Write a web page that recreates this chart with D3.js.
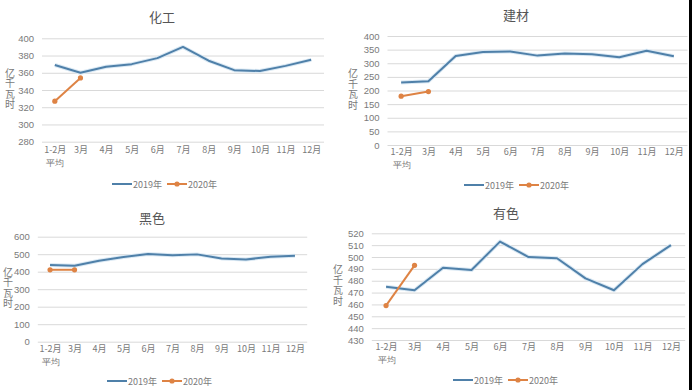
<!DOCTYPE html>
<html><head><meta charset="utf-8">
<script src="https://cdn.jsdelivr.net/npm/d3@7"></script>
<style>
body{margin:0;background:#fff;}
svg{display:block;font-family:"Noto Sans CJK SC","Noto Sans",sans-serif;}
</style></head>
<body><svg id="c" width="692" height="390"></svg>
<script>
const categories = ["1-2月","3月","4月","5月","6月","7月","8月","9月","10月","11月","12月"];
const seriesNames = ["2019年","2020年"];
const titles = ["化工","建材","黑色","有色"];
const yLabel = "亿千瓦时";

const chem2019 = [369,360,367,370,377,390,374,363,362,368,375];
const chem2020 = [327,354];
const build2019 = [229,234,327,341,343,328,336,333,322,346,326];
const build2020 = [179,196];
const ferrous2019 = [438,434,463,484,501,494,499,476,470,485,491];
const ferrous2020 = [411,411];
const nonferrous2019 = [475,472,491,489,513,500,499,482,472,494,510];
const nonferrous2020 = [459,493];

const chemTicks = [280,300,320,340,360,380,400];
const buildTicks = [0,50,100,150,200,250,300,350,400];
const ferrousTicks = [0,100,200,300,400,500,600];
const nonferrousTicks = [430,440,450,460,470,480,490,500,510,520];

const panels = [
  {title:titles[0], s1:chem2019, s2:chem2020, ticks:chemTicks,
   L:42, R:324, T:38.3, B:141.7, tx:162, ty:22, yl:10, legX:112, legY:184, catY:157},
  {title:titles[1], s1:build2019, s2:build2020, ticks:buildTicks,
   L:387.5, R:687.5, T:36, B:145, tx:516, ty:20, yl:353, legX:464, legY:185, catY:159},
  {title:titles[2], s1:ferrous2019, s2:ferrous2020, ticks:ferrousTicks,
   L:37.8, R:307.2, T:236.7, B:341.7, tx:152, ty:223, yl:8, legX:107, legY:381, catY:356},
  {title:titles[3], s1:nonferrous2019, s2:nonferrous2020, ticks:nonferrousTicks,
   L:371.8, R:685.2, T:233.3, B:340, tx:506, ty:218, yl:338, legX:453, legY:380, catY:354}
];

const blue = "#4f80a9", orange = "#de8344";
const svg = d3.select("#c");

panels.forEach(p => {
  const g = svg.append("g");
  const x = d3.scalePoint().domain(categories).range([p.L, p.R]).padding(0.5);
  const y = d3.scaleLinear().domain([d3.min(p.ticks), d3.max(p.ticks)]).range([p.B, p.T]);

  // gridlines + tick labels
  const ya = d3.axisLeft(y).tickValues(p.ticks).tickSize(-(p.R - p.L)).tickPadding(8);
  const ag = g.append("g").attr("transform", `translate(${p.L},0)`).call(ya);
  ag.select(".domain").remove();
  ag.selectAll(".tick line").attr("stroke", "#d9d9d9").attr("stroke-width", 1);
  ag.selectAll(".tick text").attr("fill", "#7a7a7a").attr("font-size", 9.5)
    .attr("font-family", "'Liberation Sans',Arial,sans-serif");

  // x axis labels
  const xa = d3.axisBottom(x).tickSize(0).tickPadding(0);
  const xg = g.append("g").attr("transform", `translate(0,${p.catY - 10})`).call(xa);
  xg.select(".domain").remove();
  xg.selectAll(".tick text").attr("fill", "#7a7a7a").attr("font-size", 9)
    .attr("font-family", "'Noto Sans CJK SC',sans-serif");
  xg.selectAll(".tick").filter(d => d === categories[0]).append("text")
    .attr("y", 13).attr("dy", "0.71em").attr("fill", "#7a7a7a").attr("font-size", 9)
    .attr("text-anchor", "middle").text("平均");

  // title
  g.append("text").attr("x", p.tx).attr("y", p.ty).attr("text-anchor", "middle")
    .attr("font-size", 13).attr("fill", "#555").text(p.title);

  // y label, vertical upright
  const mid = (p.T + p.B) / 2 - 1;
  g.append("text").attr("x", p.yl).attr("y", mid)
    .attr("text-anchor", "middle").attr("dominant-baseline", "central")
    .style("writing-mode", "vertical-rl").style("text-orientation", "upright")
    .style("letter-spacing", "0.5px")
    .attr("font-size", 10).attr("fill", "#7a7a7a").text(yLabel);

  const line = d3.line().x((d, i) => x(categories[i])).y(d => y(d));
  g.append("path").datum(p.s1).attr("d", line).attr("fill", "none")
    .attr("stroke", "#dbe9f4").attr("stroke-width", 4).attr("stroke-linejoin", "round");
  g.append("path").datum(p.s1).attr("d", line).attr("fill", "none")
    .attr("stroke", blue).attr("stroke-width", 2).attr("stroke-linejoin", "round");
  g.append("path").datum(p.s2).attr("d", line).attr("fill", "none")
    .attr("stroke", orange).attr("stroke-width", 2).attr("stroke-linejoin", "round");
  g.selectAll(".m").data(p.s2).enter().append("circle")
    .attr("cx", (d, i) => x(categories[i])).attr("cy", d => y(d)).attr("r", 2.6)
    .attr("fill", orange);

  // legend
  const lg = g.append("g").attr("transform", `translate(${p.legX},${p.legY})`);
  lg.append("line").attr("x1", 0).attr("x2", 20).attr("stroke", blue).attr("stroke-width", 2);
  lg.append("text").attr("x", 21).attr("y", 3.5).attr("font-size", 9).attr("fill", "#7a7a7a").text(seriesNames[0]);
  lg.append("line").attr("x1", 55).attr("x2", 75).attr("stroke", orange).attr("stroke-width", 2);
  lg.append("circle").attr("cx", 65).attr("cy", 0).attr("r", 2.6).attr("fill", orange);
  lg.append("text").attr("x", 76).attr("y", 3.5).attr("font-size", 9).attr("fill", "#7a7a7a").text(seriesNames[1]);
});

// dark strip at right edge
svg.append("rect").attr("x", 689).attr("y", 0).attr("width", 3).attr("height", 390).attr("fill", "#000");
</script></body></html>
